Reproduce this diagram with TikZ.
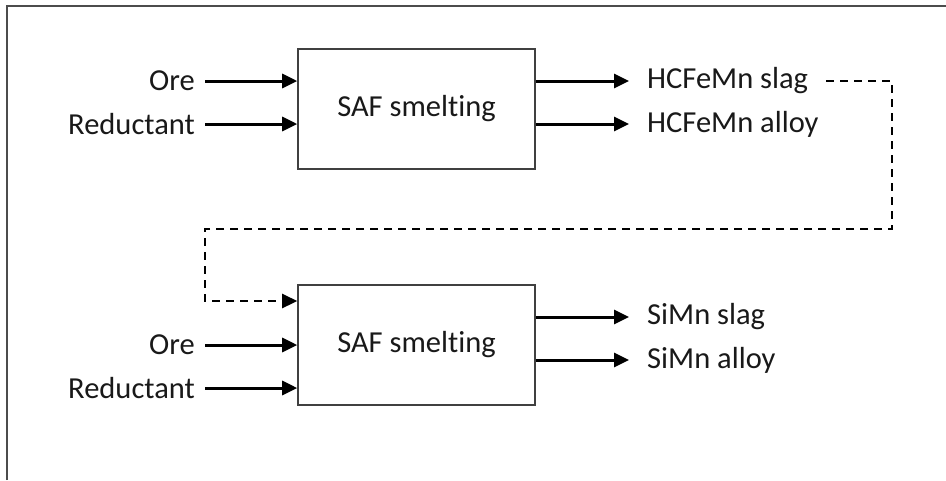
\documentclass[tikz,border=0pt]{standalone}
\usepackage{fontspec}
\setmainfont[Ligatures={NoCommon,NoContextual,NoRequired}]{Carlito}
\usetikzlibrary{arrows.meta}
\begin{document}
\begin{tikzpicture}[x=1pt,y=-1pt,
  txt/.style={font=\fontsize{30.5}{34}\selectfont, inner sep=0pt, text=black!90},
  procbox/.style={draw=black!75, line width=1.6pt, minimum width=237pt, minimum height=120pt, inner sep=0pt, font=\fontsize{30.5}{34}\selectfont, text=black!90},
  flow/.style={line width=3pt, -{Triangle[length=15pt,width=14pt]}},
  dflow/.style={line width=2.6pt, dash pattern=on 8pt off 6pt, -{Triangle[length=15pt,width=14pt]}}]
\useasboundingbox (0,0) rectangle (946,480);
\fill[white] (0,0) rectangle (946,480);
\draw[black!70, line width=2pt] (7,480) -- (7,6) -- (946,6);
% boxes
\node[procbox] (b1) at (416.5,109) {SAF smelt\kern0pt ing};
\node[procbox] (b2) at (416.5,345) {SAF smelt\kern0pt ing};
% inputs box 1
\node[txt, anchor=east] (o1) at (195,81) {Ore};
\node[txt, anchor=east] (r1) at (195,124) {Reductant};
\coordinate (o1s) at (205,81);
\coordinate (r1s) at (205,124);
\draw[flow] (o1s) -- (b1.west |- o1s);
\draw[flow] (r1s) -- (b1.west |- r1s);
% outputs box 1
\node[txt, anchor=west] (s1) at (647,81) {HCFeMn slag};
\node[txt, anchor=west] (a1) at (647,124) {HCFeMn alloy};
\draw[flow] (b1.east |- s1) -- (629,81);
\draw[flow] (b1.east |- a1) -- (629,124);
% dashed recycle
\coordinate (d1) at (826,81);
\coordinate (d2) at (892,81);
\coordinate (d3) at (892,229);
\coordinate (d4) at (205,229);
\coordinate (d5) at (205,301);
\draw[dflow] (d1) -- (d2) -- (d3) -- (d4) -- (d5) -- (b2.west |- d5);
% inputs box 2
\node[txt, anchor=east] (o2) at (195,345) {Ore};
\node[txt, anchor=east] (r2) at (195,388) {Reductant};
\coordinate (o2s) at (205,345);
\coordinate (r2s) at (205,388);
\draw[flow] (o2s) -- (b2.west |- o2s);
\draw[flow] (r2s) -- (b2.west |- r2s);
% outputs box 2
\node[txt, anchor=west] (s2) at (647,317) {SiMn slag};
\node[txt, anchor=west] (a2) at (647,360) {SiMn alloy};
\draw[flow] (b2.east |- s2) -- (629,317);
\draw[flow] (b2.east |- a2) -- (629,360);
\end{tikzpicture}
\end{document}
